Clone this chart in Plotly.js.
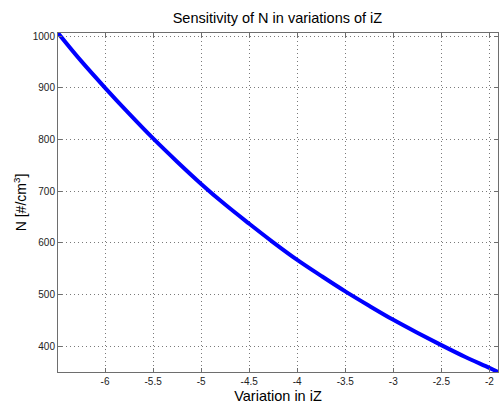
<!DOCTYPE html>
<html>
<head>
<meta charset="utf-8">
<script src="https://cdn.plot.ly/plotly-3.0.1.min.js"></script>
<style>html,body{margin:0;padding:0;background:#fff;}#chart{width:499px;height:405px;}</style>
</head>
<body>
<div id="chart"></div>
<script>
// Data
var variationIZ = [-6.49, -6.25, -6.0, -5.75, -5.5, -5.25, -5.0, -4.75, -4.5, -4.25, -4.0, -3.75, -3.5, -3.25, -3.0, -2.75, -2.5, -2.25, -2.0, -1.91];
var sensitivityN = [1006, 952, 900, 850, 802, 757, 714, 674, 637, 601, 567, 536, 506, 478, 451, 426, 402, 379, 358, 350];
var xTickVals = [-6, -5.5, -5, -4.5, -4, -3.5, -3, -2.5, -2];
var xTickText = ['-6', '-5.5', '-5', '-4.5', '-4', '-3.5', '-3', '-2.5', '-2'];
var yTickVals = [400, 500, 600, 700, 800, 900, 1000];
var yTickText = ['400', '500', '600', '700', '800', '900', '1000'];

var trace = {
  x: variationIZ,
  y: sensitivityN,
  type: 'scatter',
  mode: 'lines',
  line: {color: '#0000ff', width: 4, shape: 'spline', smoothing: 1},
  hoverinfo: 'skip'
};

var axisCommon = {
  showline: true,
  linecolor: '#6e6e6e',
  linewidth: 1,
  mirror: 'ticks',
  ticks: 'inside',
  ticklen: 4,
  tickcolor: '#6e6e6e',
  showgrid: true,
  gridcolor: '#7a7a7a',
  griddash: '1px,3px',
  gridwidth: 1,
  zeroline: false,
  tickfont: {family: 'Liberation Sans, Arial, sans-serif', size: 10, color: '#222'}
};

var layout = {
  width: 499,
  height: 405,
  margin: {l: 58, r: 1, t: 33, b: 33},
  paper_bgcolor: '#ffffff',
  plot_bgcolor: '#ffffff',
  showlegend: false,
  title: {
    text: 'Sensitivity of N in variations of iZ',
    font: {family: 'Liberation Sans, Arial, sans-serif', size: 14.5, color: '#000'},
    x: 0.556, xanchor: 'center', y: 0.955, yanchor: 'middle'
  },
  xaxis: Object.assign({}, axisCommon, {
    range: [-6.49, -1.91],
    tickmode: 'array',
    tickvals: xTickVals,
    ticktext: xTickText,
    title: {text: 'Variation in iZ', font: {family: 'Liberation Sans, Arial, sans-serif', size: 14.5, color: '#000'}, standoff: 4}
  }),
  yaxis: Object.assign({}, axisCommon, {
    range: [350, 1006],
    tickmode: 'array',
    tickvals: yTickVals,
    ticktext: yTickText,
    title: {text: 'N [#/cm<sup>3</sup>]', font: {family: 'Liberation Sans, Arial, sans-serif', size: 14, color: '#000'}, standoff: 2}
  })
};

Plotly.newPlot('chart', [trace], layout, {staticPlot: true, displayModeBar: false});
</script>
</body>
</html>
